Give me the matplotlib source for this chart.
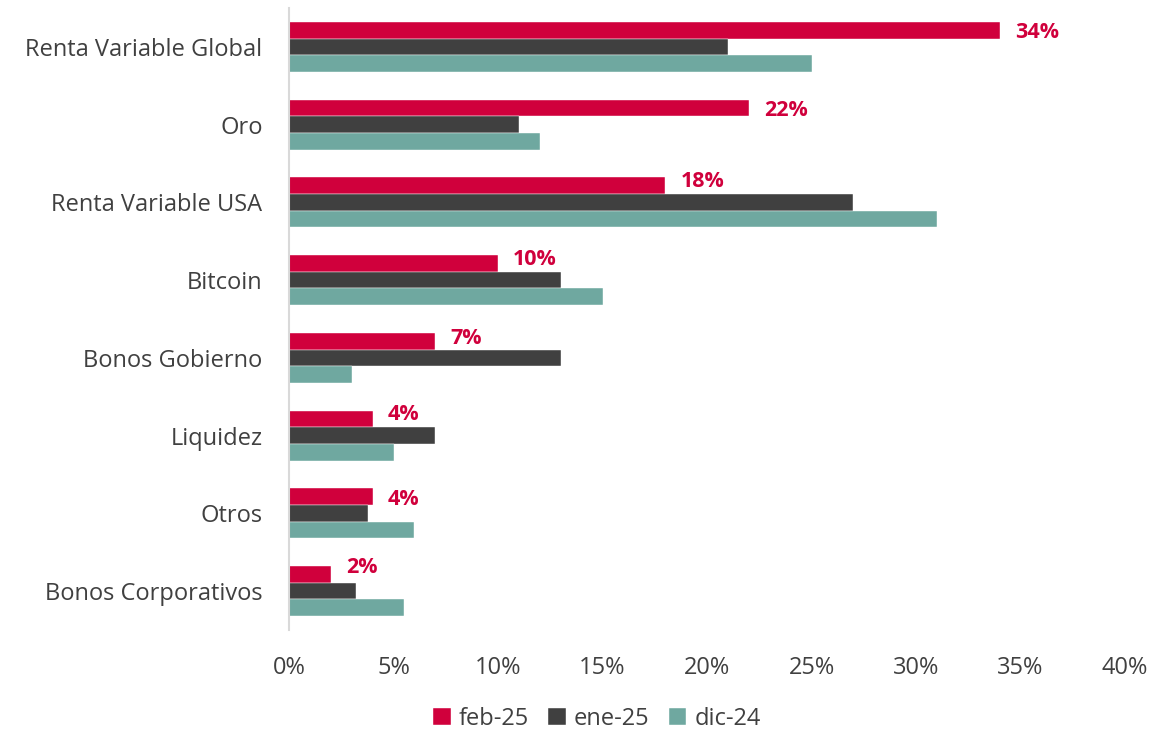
import matplotlib.pyplot as plt
import numpy as np

plt.rcParams['font.family'] = ['Open Sans', 'DejaVu Sans']

categorias = ['Renta Variable Global', 'Oro', 'Renta Variable USA', 'Bitcoin',
              'Bonos Gobierno', 'Liquidez', 'Otros', 'Bonos Corporativos']
feb25 = [34, 22, 18, 10, 7, 4, 4, 2]
ene25 = [21, 11, 27, 13, 13, 7, 3.8, 3.2]
dic24 = [25, 12, 31, 15, 3, 5, 6, 5.5]
series = {'feb-25': feb25, 'ene-25': ene25, 'dic-24': dic24}
colores = ['#D0003C', '#404040', '#6FA8A0']
# desplazamiento vertical de las etiquetas (puntos)
offset_y = [-2, -2, 3, 3, 2, 3, -2, 5]

fig = plt.figure(figsize=(11.68, 7.31), dpi=100)
ax = fig.add_axes([289 / 1168, 1 - 630 / 731, (1125 - 289) / 1168, 622 / 731])

y = np.arange(len(categorias))
h = 0.215
for i, (nombre, vals) in enumerate(series.items()):
    ax.barh(y + (i - 1) * h, vals, height=h, color=colores[i], label=nombre,
            edgecolor='white', linewidth=0.3)

for j, v in enumerate(feb25):
    ax.annotate(f'{v:.0f}%', (v, y[j] - h), xytext=(11, offset_y[j]),
                textcoords='offset points', ha='left', va='center',
                color='#D0003C', fontsize=15.5, fontweight='bold')

ax.set_ylim(len(categorias) - 0.5, -0.5)
ax.set_xlim(0, 40)
ax.set_xticks(range(0, 41, 5))
ax.set_xticklabels([f'{t}%' for t in range(0, 41, 5)])
ax.set_yticks(y)
ax.set_yticklabels(categorias)
ax.tick_params(axis='both', length=0, labelsize=17, colors='#404040')
ax.tick_params(axis='x', pad=19)
ax.tick_params(axis='y', pad=19)
for s in ['top', 'right', 'bottom']:
    ax.spines[s].set_visible(False)
ax.spines['left'].set_color('#D9D9D9')
ax.spines['left'].set_linewidth(1.5)

leg = fig.legend(loc='center', bbox_to_anchor=(0.5 + 13 / 1168, 1 - 719 / 731), ncol=3,
                 frameon=False, fontsize=17, handlelength=0.75, handleheight=0.75,
                 columnspacing=0.8, handletextpad=0.35)
for t in leg.get_texts():
    t.set_color('#404040')

fig.savefig('out.png', dpi=100)
